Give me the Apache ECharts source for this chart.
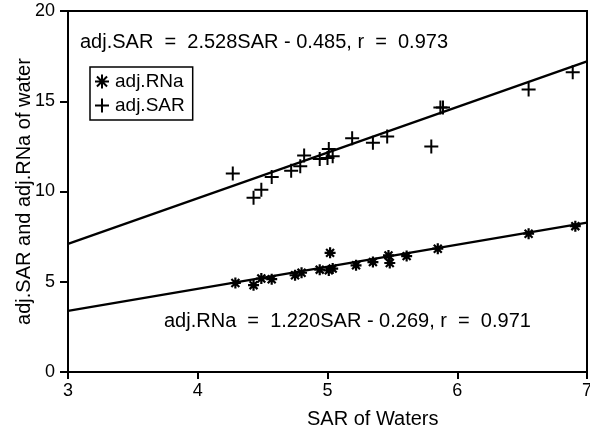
<!DOCTYPE html>
<html>
<head>
<meta charset="utf-8">
<script src="https://cdn.jsdelivr.net/npm/echarts@6/dist/echarts.min.js"></script>
<style>
html,body{margin:0;padding:0;background:#fff;}
#chart{width:590px;height:431px;}
</style>
</head>
<body>
<div id="chart"></div>
<script>
// adj.SAR points [SAR, adj.SAR]
const sarPoints = [
  [4.27, 11.0], [4.43, 9.65], [4.49, 10.1], [4.57, 10.8], [4.72, 11.15],
  [4.79, 11.4], [4.82, 12.0], [4.94, 11.8], [5.00, 11.85], [5.01, 12.35],
  [5.04, 11.95], [5.19, 12.95], [5.35, 12.7], [5.46, 13.05], [5.80, 12.5],
  [5.87, 14.65], [5.89, 14.65], [6.55, 15.65], [6.89, 16.6]
];
// adj.RNa points [SAR, adj.RNa]
const rnaPoints = [
  [4.29, 4.93], [4.43, 4.81], [4.49, 5.18], [4.57, 5.14], [4.75, 5.36],
  [4.80, 5.5], [4.94, 5.67], [5.01, 5.63], [5.02, 6.6], [5.04, 5.73],
  [5.22, 5.91], [5.35, 6.09], [5.47, 6.46], [5.48, 6.04], [5.61, 6.42],
  [5.85, 6.83], [6.55, 7.66], [6.91, 8.08]
];
// regression lines (endpoints from the printed equations)
const sarFit = [[3, 7.099], [7, 17.211]];
const rnaFit = [[3, 3.391], [7, 8.271]];
const xTicks = [3, 4, 5, 6, 7];
const yTicks = [0, 5, 10, 15, 20];
const sarEq = 'adj.SAR  =  2.528SAR - 0.485, r  =  0.973';
const rnaEq = 'adj.RNa  =  1.220SAR - 0.269, r  =  0.971';

const FONT = 'Liberation Sans';
const starPath = 'path://M0,-1L0,1M-1,0L1,0M-0.72,-0.72L0.72,0.72M-0.72,0.72L0.72,-0.72';
const plusPath = 'path://M0,-1L0,1M-1,0L1,0';

const chart = echarts.init(document.getElementById('chart'), null, {renderer: 'canvas'});
chart.setOption({
  animation: false,
  backgroundColor: '#fff',
  textStyle: {fontFamily: FONT},
  grid: {left: 68, right: 3, top: 11, bottom: 59, show: true, borderColor: '#000', borderWidth: 2,
         containLabel: false, outerBoundsMode: 'none'},
  xAxis: {
    type: 'value', min: xTicks[0], max: xTicks[xTicks.length - 1], interval: 1,
    axisLine: {lineStyle: {color: '#000', width: 2}},
    axisTick: {show: true, length: 7, lineStyle: {color: '#000', width: 2}},
    axisLabel: {color: '#000', fontSize: 18, fontFamily: FONT, margin: 10, hideOverlap: false},
    splitLine: {show: false}
  },
  yAxis: {
    type: 'value', min: yTicks[0], max: yTicks[yTicks.length - 1], interval: 5,
    name: 'adj.SAR and adj.RNa of water', nameLocation: 'middle', nameGap: 34,
    nameMoveOverlap: false,
    nameTextStyle: {color: '#000', fontSize: 20, fontFamily: FONT},
    axisLine: {lineStyle: {color: '#000', width: 2}},
    axisTick: {show: true, length: 8, lineStyle: {color: '#000', width: 2}},
    axisLabel: {color: '#000', fontSize: 18, fontFamily: FONT, margin: 13},
    splitLine: {show: false}
  },
  legend: {
    orient: 'vertical', left: 90, top: 67,
    data: ['adj.RNa', 'adj.SAR'],
    borderColor: '#000', borderWidth: 1.5, borderRadius: 0,
    padding: [5, 8, 5, 4], itemGap: 5, itemWidth: 20, itemHeight: 14,
    textStyle: {color: '#000', fontSize: 19, fontFamily: FONT, padding: [0, 0, 0, -2]}
  },
  graphic: [
    {type: 'text', left: 80, top: 32, style: {text: sarEq, fill: '#000', font: '20px "Liberation Sans"'}},
    {type: 'text', left: 164, top: 311, style: {text: rnaEq, fill: '#000', font: '20px "Liberation Sans"'}},
    {type: 'text', left: 307, top: 409, style: {text: 'SAR of Waters', fill: '#000', font: '20px "Liberation Sans"'}}
  ],
  series: [
    {
      name: 'adj.RNa', type: 'scatter', data: rnaPoints,
      symbol: starPath, symbolSize: 11,
      itemStyle: {color: '#000', borderColor: '#000', borderWidth: 2.2, opacity: 1},
      z: 3
    },
    {
      name: 'adj.SAR', type: 'scatter', data: sarPoints,
      symbol: plusPath, symbolSize: 14,
      itemStyle: {color: '#000', borderColor: '#000', borderWidth: 2, opacity: 1},
      z: 3
    },
    {
      name: 'sarFit', type: 'line', data: sarFit, showSymbol: false, symbol: 'none',
      lineStyle: {color: '#000', width: 2.2}, silent: true, z: 2
    },
    {
      name: 'rnaFit', type: 'line', data: rnaFit, showSymbol: false, symbol: 'none',
      lineStyle: {color: '#000', width: 2.2}, silent: true, z: 2
    }
  ]
});
</script>
</body>
</html>
